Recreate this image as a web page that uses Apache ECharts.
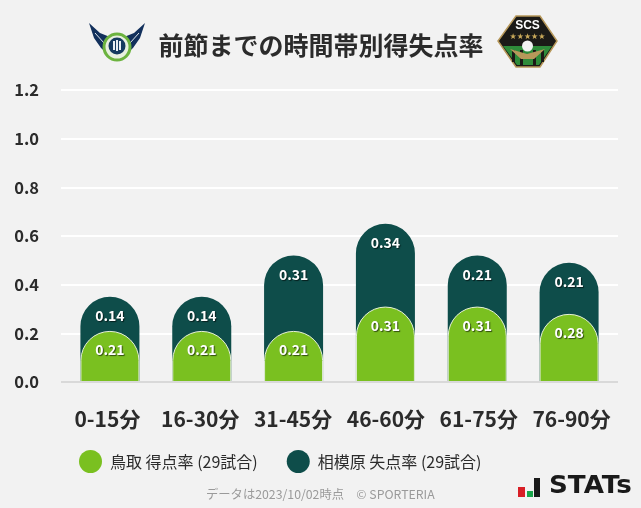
<!DOCTYPE html>
<html><head><meta charset="utf-8">
<style>html,body{margin:0;padding:0;background:#f2f2f2}#c{width:641px;height:508px}</style>
<script src="https://cdn.jsdelivr.net/npm/echarts@6/dist/echarts.min.js"></script>
</head><body><div id="c"></div>
<script>
const categories = ['0-15分','16-30分','31-45分','46-60分','61-75分','76-90分'];
const tottoriScored = [0.21,0.21,0.21,0.31,0.31,0.28];
const sagamiharaConceded = [0.14,0.14,0.31,0.34,0.21,0.21];
const yTicksMax = 1.2;
const titleText = '前節までの時間帯別得失点率';
const legendNames = ['鳥取 得点率 (29試合)','相模原 失点率 (29試合)'];
const footText = 'データは2023/10/02時点　© SPORTERIA';

const FONT = '"Noto Sans CJK JP","Noto Sans",sans-serif';
const GREEN = '#7ac020', DARK = '#0e4d4a';
const stackedTop = tottoriScored.map((v,i)=>+(v+sagamiharaConceded[i]).toFixed(2));
const labelBase = {show:true,position:'insideTop',distance:12,color:'#fff',fontFamily:FONT,fontSize:14,fontWeight:700,
  textShadowColor:'rgba(0,0,0,0.6)',textShadowBlur:1,textShadowOffsetX:1,textShadowOffsetY:1};

const chart = echarts.init(document.getElementById('c'),null,{renderer:'canvas'});
chart.setOption({
  backgroundColor:'#f2f2f2',animation:false,
  textStyle:{fontFamily:FONT},
  title:{text:titleText,left:316,top:21,textAlign:'center',
    textStyle:{fontFamily:FONT,fontSize:25,fontWeight:700,color:'#2b2b2b',lineHeight:38}},
  legend:{show:true,left:74,top:445,itemWidth:23,itemHeight:23,itemGap:29,icon:'circle',
    data:[{name:legendNames[0]},{name:legendNames[1]}],
    itemStyle:{borderWidth:0},
    textStyle:{fontFamily:FONT,fontSize:16,color:'#2b2b2b',padding:[0,0,0,3]}},
  grid:[{left:61,right:23,top:90,bottom:126},{left:64,right:26,top:90,bottom:126}],
  xAxis:[
    {type:'category',gridIndex:0,data:categories,
      axisTick:{show:false},axisLine:{show:false},
      axisLabel:{interval:0,fontFamily:FONT,fontSize:21,fontWeight:700,color:'#2b2b2b',margin:27}},
    {type:'category',gridIndex:1,data:categories,show:false}
  ],
  yAxis:[
    {type:'value',gridIndex:0,min:0,max:yTicksMax,interval:0.2,
      axisLine:{show:false},axisTick:{show:false},
      splitLine:{lineStyle:{color:'#ffffff',width:2}},
      axisLabel:{fontFamily:FONT,fontSize:16.5,fontWeight:700,color:'#2b2b2b',margin:22,padding:[0,0,3,0],formatter:v=>v.toFixed(1)}},
    {type:'value',gridIndex:1,min:0,max:yTicksMax,interval:0.2,show:false}
  ],
  series:[
    {name:legendNames[1],type:'bar',xAxisIndex:1,yAxisIndex:1,data:stackedTop,barWidth:59,barGap:'-100%',z:2,
      itemStyle:{color:DARK,borderRadius:[30,30,0,0]},
      label:{...labelBase,formatter:p=>sagamiharaConceded[p.dataIndex].toFixed(2)}},
    {name:legendNames[0],type:'bar',xAxisIndex:1,yAxisIndex:1,data:tottoriScored,barWidth:59,barGap:'-100%',z:3,
      itemStyle:{color:GREEN,borderRadius:[30,30,0,0],borderColor:'#e6f0d8',borderWidth:1},
      label:{...labelBase,formatter:p=>p.value.toFixed(2)}},
    {type:'line',xAxisIndex:0,yAxisIndex:0,data:[],silent:true,z:4,
      markLine:{silent:true,symbol:'none',label:{show:false},lineStyle:{color:'#d9d9d9',width:2,type:'solid'},
        data:[{yAxis:0}]}}
  ],
  graphic:[
    {type:'text',left:206,top:488,style:{text:footText,fontFamily:FONT,fontSize:12.3,fill:'#9a9a9a'}},
    {type:'group',silent:true,children:[
      // STATs logo
      {type:'rect',shape:{x:518,y:487,width:7,height:10},style:{fill:'#d81f26'}},
      {type:'rect',shape:{x:527,y:491,width:6,height:6},style:{fill:'#1aa64b'}},
      {type:'rect',shape:{x:534,y:478,width:6,height:19},style:{fill:'#1a1a1a'}},
      {type:'text',x:549,y:475,scaleX:1.09,style:{text:'STATs',fontFamily:'"DejaVu Sans",sans-serif',fontWeight:700,fontSize:24,fill:'#1a1a1a'}},
      // home crest
      {type:'polygon',shape:{points:[[89,23],[94,38],[101,48],[110,56],[124,56],[133,48],[140,38],[145,23],[134,33],[124,37],[110,37],[100,33]]},style:{fill:'#12305c'}},
      {type:'polyline',shape:{points:[[95,33],[104,43]]},style:{stroke:'#dfe8ee',lineWidth:1,fill:null}},
      {type:'polyline',shape:{points:[[139,33],[130,43]]},style:{stroke:'#dfe8ee',lineWidth:1,fill:null}},
      {type:'circle',shape:{cx:117,cy:47,r:13},style:{fill:'#e8f0e0',stroke:'#6cb33f',lineWidth:3}},
      {type:'circle',shape:{cx:117,cy:46,r:8.5},style:{fill:'#153a5f'}},
      {type:'rect',shape:{x:113,y:41,width:2,height:9},style:{fill:'#e8eef2'}},
      {type:'rect',shape:{x:116,y:40,width:2,height:11},style:{fill:'#e8eef2'}},
      {type:'rect',shape:{x:119,y:41,width:2,height:9},style:{fill:'#e8eef2'}},
      // away crest
      {type:'polygon',shape:{points:[[516,16],[540,16],[557,41],[540,67],[516,67],[498,41]]},style:{fill:'#1b1a17',stroke:'#b7985a',lineWidth:1.5}},
      {type:'polygon',shape:{points:[[503,46],[552,46],[539,65],[517,65]]},style:{fill:'#2e8b3a'}},
      {type:'rect',shape:{x:520,y:50,width:3,height:15},style:{fill:'#1b1a17'}},
      {type:'rect',shape:{x:533,y:50,width:3,height:15},style:{fill:'#1b1a17'}},
      {type:'rect',shape:{x:512,y:50,width:3,height:12},style:{fill:'#1b1a17'}},
      {type:'rect',shape:{x:541,y:50,width:3,height:12},style:{fill:'#1b1a17'}},
      {type:'polygon',shape:{points:[[510,49],[527,54],[545,49],[534,59],[521,59]]},style:{fill:'#b7985a'}},
      {type:'circle',shape:{cx:527.5,cy:46,r:5.5},style:{fill:'#f2f2f2'}},
      {type:'text',x:527.5,y:20,style:{text:'SCS',align:'center',fontFamily:'"Liberation Sans",sans-serif',fontWeight:700,fontSize:12,fill:'#fff'}},
      {type:'text',x:527.5,y:33,style:{text:'★★★★★',align:'center',fontFamily:'"DejaVu Sans",sans-serif',fontSize:8,fill:'#c9a95a'}}
    ]}
  ]
});
</script></body></html>
